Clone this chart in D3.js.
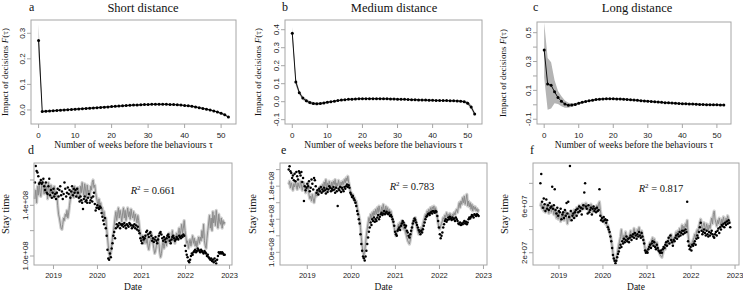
<!DOCTYPE html>
<html><head><meta charset="utf-8">
<script src="https://cdn.jsdelivr.net/npm/d3@7"></script>
<style>body{margin:0;background:#fff}svg{display:block}</style>
</head><body>
<svg id="chart" width="743" height="290"></svg>
<script>
// ---------------- DATA ----------------
const lagWeeks = d3.range(0, 53);
const panelTitles = ["Short distance", "Medium distance", "Long distance"];
const panelLetters = ["a", "b", "c", "d", "e", "f"];
const r2Values = ["0.661", "0.783", "0.817"];
const lagTicks = [0, 10, 20, 30, 40, 50];
const yearTicks = ["2019", "2020", "2021", "2022", "2023"];

const shortImpact = [0.272,-0.006,-0.005,-0.004,-0.003,-0.002,-0.001,0.000,0.001,0.002,0.003,0.004,0.005,0.006,0.007,0.008,0.009,0.010,0.011,0.012,0.013,0.014,0.015,0.016,0.017,0.018,0.019,0.019,0.020,0.021,0.021,0.022,0.022,0.022,0.022,0.022,0.021,0.021,0.020,0.019,0.017,0.016,0.014,0.012,0.009,0.006,0.003,0.000,-0.004,-0.008,-0.013,-0.019,-0.028];
const shortBand = [0.063,0.004,0.003,0.003,0.003,0.003,0.003,0.003,0.003,0.003,0.003,0.003,0.003,0.003,0.003,0.003,0.003,0.003,0.003,0.003,0.003,0.003,0.003,0.003,0.003,0.003,0.003,0.003,0.003,0.003,0.003,0.003,0.003,0.003,0.003,0.003,0.003,0.003,0.003,0.003,0.003,0.003,0.003,0.003,0.003,0.003,0.003,0.003,0.003,0.003,0.004,0.004,0.004];
const mediumImpact = [0.380,0.110,0.050,0.020,0.005,-0.005,-0.010,-0.012,-0.010,-0.007,-0.003,0.000,0.003,0.006,0.009,0.011,0.013,0.014,0.015,0.016,0.017,0.017,0.017,0.017,0.017,0.017,0.016,0.016,0.015,0.015,0.014,0.013,0.013,0.012,0.011,0.011,0.010,0.009,0.009,0.008,0.008,0.007,0.007,0.006,0.006,0.005,0.005,0.004,0.003,0.000,-0.008,-0.030,-0.068];
const mediumBand = [0.035,0.020,0.012,0.010,0.010,0.009,0.008,0.008,0.007,0.006,0.005,0.004,0.003,0.003,0.003,0.003,0.003,0.003,0.003,0.003,0.003,0.003,0.003,0.003,0.003,0.003,0.003,0.003,0.003,0.003,0.003,0.003,0.003,0.003,0.003,0.003,0.003,0.003,0.003,0.003,0.003,0.003,0.003,0.003,0.003,0.003,0.003,0.004,0.004,0.006,0.010,0.012,0.012];
const longImpact = [0.380,0.145,0.135,0.090,0.050,0.025,0.005,-0.003,-0.002,0.003,0.010,0.017,0.023,0.028,0.032,0.036,0.039,0.041,0.042,0.042,0.042,0.041,0.040,0.039,0.037,0.035,0.033,0.031,0.029,0.027,0.025,0.023,0.021,0.019,0.017,0.015,0.014,0.012,0.011,0.009,0.008,0.007,0.006,0.005,0.004,0.003,0.002,0.001,0.001,0.000,0.000,-0.001,-0.001];
const longBand = [0.190,0.180,0.160,0.080,0.045,0.035,0.025,0.018,0.012,0.010,0.008,0.007,0.006,0.006,0.006,0.006,0.006,0.006,0.006,0.006,0.006,0.006,0.006,0.006,0.006,0.006,0.006,0.006,0.006,0.006,0.006,0.006,0.006,0.006,0.006,0.006,0.006,0.006,0.006,0.006,0.006,0.006,0.006,0.006,0.006,0.006,0.006,0.006,0.006,0.006,0.006,0.006,0.006];

// weekly stay time series, first week 2018-07-31
const firstWeek = "2018-07-31";
const shortObserved = [
1.58,1.71,1.67,1.66,1.63,1.57,1.58,1.60,1.57,1.58,1.61,1.55,1.52,
1.58,1.50,1.49,1.55,1.61,1.48,1.52,1.46,1.50,1.53,1.47,1.49,1.45,
1.50,1.53,1.47,1.52,1.55,1.48,1.51,1.45,1.49,1.58,1.53,1.47,1.50,
1.54,1.49,1.52,1.46,1.51,1.55,1.48,1.53,1.50,1.52,1.47,1.53,1.50,
1.46,1.43,1.47,1.44,1.42,1.37,1.45,1.47,1.43,1.44,1.42,1.46,1.49,
1.42,1.44,1.46,1.43,1.47,1.50,1.41,1.36,1.38,1.40,1.38,1.37,1.39,
1.38,1.34,1.31,1.28,1.25,1.30,1.22,1.16,1.05,0.98,0.97,1.02,0.99,
1.06,1.10,1.16,1.19,1.14,1.22,1.25,1.23,1.24,1.26,1.22,1.25,1.24,
1.25,1.23,1.26,1.24,1.22,1.25,1.24,1.23,1.26,1.25,1.24,1.22,1.24,
1.23,1.25,1.22,1.24,1.21,1.23,1.20,1.18,1.14,1.12,1.10,1.15,1.13,
1.14,1.16,1.19,1.20,1.17,1.15,1.18,1.19,1.16,1.12,1.14,1.11,1.13,
1.15,1.12,1.10,1.13,1.16,1.18,1.19,1.17,1.14,1.12,1.15,1.13,1.11,
1.14,1.16,1.17,1.15,1.12,1.10,1.13,1.15,1.16,1.14,1.12,1.13,1.15,
1.14,1.13,1.16,1.15,1.14,1.16,1.15,1.17,1.16,1.08,1.04,1.01,0.99,
0.96,0.95,0.97,1.00,1.02,1.01,1.03,1.04,1.05,1.03,1.04,1.06,1.05,
1.04,1.03,1.05,1.04,1.03,1.02,1.04,1.03,1.02,1.00,1.01,0.99,0.98,
0.97,0.98,0.96,0.97,0.95,0.98,0.96,0.94,0.97,1.00,1.03,1.02,1.03,
1.02,1.03,1.02,1.01,1.01];
const shortPredicted = [
1.45,1.52,1.42,1.55,1.48,1.58,1.50,1.47,1.56,1.60,1.52,1.49,1.57,
1.50,1.55,1.45,1.58,1.52,1.47,1.56,1.50,1.53,1.46,1.55,1.49,1.51,
1.48,1.40,1.33,1.30,1.26,1.22,1.21,1.25,1.30,1.28,1.33,1.31,1.36,
1.30,1.34,1.40,1.45,1.50,1.48,1.53,1.46,1.55,1.50,1.52,1.47,1.54,
1.50,1.45,1.55,1.50,1.58,1.52,1.48,1.57,1.53,1.45,1.56,1.50,1.52,
1.47,1.55,1.52,1.58,1.60,1.54,1.56,1.50,1.46,1.43,1.40,1.45,1.38,
1.42,1.36,1.38,1.32,1.35,1.28,1.30,1.22,1.15,1.08,1.02,0.99,1.03,
1.08,1.15,1.18,1.24,1.30,1.35,1.28,1.33,1.38,1.30,1.36,1.32,1.27,
1.34,1.38,1.30,1.36,1.28,1.33,1.38,1.31,1.35,1.29,1.37,1.32,1.30,
1.35,1.28,1.33,1.30,1.26,1.32,1.28,1.22,1.18,1.15,1.12,1.16,1.10,
1.12,1.16,1.10,1.14,1.08,1.05,1.10,1.13,1.18,1.14,1.10,1.06,1.02,
1.04,1.08,1.12,1.15,1.10,1.03,0.99,1.02,1.08,1.12,1.06,1.10,1.14,
1.08,1.15,1.11,1.18,1.13,1.10,1.14,1.20,1.12,1.16,1.10,1.15,1.18,
1.15,1.18,1.22,1.16,1.20,1.25,1.18,1.22,1.28,1.20,1.15,1.10,1.12,
1.06,1.10,1.13,1.08,1.12,1.16,1.10,1.14,1.08,1.12,1.07,1.11,1.15,
1.10,1.15,1.12,1.20,1.14,1.25,1.12,1.08,1.06,1.14,1.20,1.26,1.32,
1.22,1.30,1.20,1.35,1.26,1.32,1.24,1.36,1.28,1.22,1.33,1.27,1.25,
1.30,1.22,1.28,1.25,1.27];
const mediumObserved = [
2.00,2.04,1.98,1.96,1.90,1.93,1.87,1.95,1.86,1.97,1.92,1.88,1.98,
1.96,1.93,1.97,1.85,1.90,1.62,1.80,1.75,1.78,1.83,1.80,1.86,1.74,
1.78,1.88,1.83,1.76,1.90,1.87,1.80,1.72,1.75,1.70,1.77,1.74,1.79,
1.72,1.76,1.74,1.78,1.75,1.71,1.77,1.73,1.76,1.80,1.78,1.74,1.77,
1.75,1.79,1.76,1.72,1.78,1.74,1.56,1.77,1.75,1.79,1.73,1.78,1.76,
1.74,1.79,1.77,1.80,1.82,1.79,1.81,1.78,1.72,1.70,1.67,1.68,1.65,
1.63,1.60,1.56,1.50,1.46,1.40,1.35,1.22,1.10,1.02,0.95,0.93,0.90,
0.95,1.02,1.10,1.18,1.25,1.30,1.36,1.33,1.40,1.38,1.42,1.37,1.40,
1.38,1.42,1.45,1.40,1.43,1.46,1.48,1.45,1.47,1.50,1.46,1.48,1.49,
1.47,1.46,1.48,1.44,1.45,1.43,1.40,1.37,1.32,1.25,1.22,1.20,1.26,
1.28,1.30,1.27,1.32,1.35,1.38,1.36,1.33,1.30,1.32,1.26,1.24,1.20,
1.18,1.22,1.26,1.30,1.35,1.38,1.41,1.39,1.36,1.33,1.30,1.27,1.25,
1.22,1.26,1.24,1.28,1.32,1.36,1.40,1.43,1.44,1.46,1.47,1.45,1.48,
1.49,1.47,1.50,1.49,1.48,1.50,1.49,1.44,1.38,1.30,1.22,1.17,1.20,
1.24,1.30,1.34,1.38,1.40,1.37,1.39,1.42,1.40,1.43,1.41,1.39,1.42,
1.40,1.41,1.38,1.42,1.40,1.38,1.35,1.34,1.36,1.33,1.35,1.34,1.36,
1.38,1.35,1.37,1.34,1.36,1.40,1.42,1.41,1.43,1.45,1.44,1.42,1.46,
1.45,1.44,1.46,1.45,1.44];
const mediumPredicted = [
1.82,1.86,1.78,1.84,1.80,1.75,1.83,1.79,1.85,1.81,1.76,1.84,1.80,
1.78,1.86,1.82,1.75,1.80,1.84,1.78,1.72,1.80,1.76,1.83,1.70,1.65,
1.68,1.62,1.70,1.65,1.60,1.66,1.72,1.68,1.75,1.70,1.78,1.73,1.80,
1.76,1.82,1.78,1.85,1.80,1.88,1.76,1.84,1.79,1.86,1.82,1.78,1.85,
1.80,1.86,1.82,1.88,1.78,1.84,1.80,1.87,1.82,1.78,1.85,1.81,1.86,
1.82,1.88,1.84,1.90,1.86,1.92,1.85,1.80,1.74,1.72,1.68,1.70,1.64,
1.66,1.60,1.62,1.55,1.50,1.45,1.40,1.30,1.18,1.08,1.00,0.97,1.02,
1.10,1.20,1.28,1.35,1.42,1.38,1.46,1.40,1.48,1.44,1.50,1.45,1.52,
1.46,1.54,1.48,1.56,1.50,1.47,1.55,1.49,1.58,1.52,1.48,1.56,1.50,
1.54,1.48,1.52,1.46,1.50,1.44,1.40,1.35,1.30,1.24,1.20,1.25,1.30,
1.34,1.28,1.36,1.30,1.38,1.32,1.28,1.35,1.26,1.22,1.18,1.14,1.12,
1.10,1.15,1.22,1.28,1.34,1.40,1.36,1.42,1.35,1.30,1.26,1.22,1.28,
1.24,1.30,1.26,1.34,1.38,1.42,1.46,1.44,1.50,1.47,1.52,1.48,1.54,
1.50,1.55,1.52,1.56,1.50,1.54,1.48,1.42,1.35,1.30,1.28,1.32,1.35,
1.38,1.42,1.40,1.45,1.42,1.48,1.44,1.46,1.43,1.47,1.45,1.42,1.46,
1.44,1.48,1.45,1.50,1.52,1.48,1.55,1.60,1.54,1.62,1.58,1.66,1.60,
1.68,1.58,1.64,1.70,1.56,1.62,1.55,1.60,1.52,1.58,1.50,1.56,1.52,
1.55,1.50,1.53,1.49,1.52];
const longObserved = [
8.0,8.8,6.4,5.9,6.7,6.2,5.6,6.6,5.8,6.1,5.7,6.3,5.9,
6.0,7.7,5.8,6.1,7.5,5.7,5.4,5.9,5.2,5.6,5.5,5.8,4.9,
5.3,5.5,5.0,5.7,5.2,6.3,5.4,6.4,5.1,9.5,5.6,4.8,5.2,
5.4,5.0,5.5,5.7,5.2,5.8,5.5,6.0,5.6,5.9,5.3,5.8,6.1,
7.2,8.0,6.0,5.8,5.4,6.1,5.5,5.7,5.9,5.3,5.8,6.0,5.6,
5.8,5.5,5.9,5.6,5.7,7.5,5.2,4.8,5.0,4.7,5.1,4.8,4.9,
4.6,4.8,4.2,4.0,3.8,3.4,3.0,2.4,1.8,1.5,1.3,1.1,1.3,
1.6,1.9,2.1,2.4,2.7,2.5,3.0,2.8,3.2,2.9,3.1,3.4,3.0,
3.2,2.9,3.3,3.5,3.1,3.4,3.6,3.3,3.7,3.5,3.2,3.6,3.4,
3.8,3.5,3.3,3.7,3.4,3.1,2.8,2.2,2.0,2.1,2.0,2.3,2.5,
2.7,2.4,2.8,3.0,2.6,2.9,2.5,2.3,2.7,2.4,2.2,2.1,2.0,
2.2,2.0,2.3,2.5,2.4,2.7,2.9,2.6,3.0,3.3,2.8,3.5,3.1,
2.9,2.6,3.1,3.0,3.3,3.5,3.2,3.6,3.4,3.8,3.5,3.7,3.9,
3.6,3.9,3.7,4.0,3.8,6.4,3.0,2.6,2.3,2.5,2.2,2.7,2.6,
2.8,3.0,2.7,3.2,3.5,3.3,3.8,4.2,4.6,3.9,3.6,3.8,4.0,
3.7,3.5,3.9,3.6,3.4,3.8,3.5,3.7,3.9,3.6,3.4,3.3,3.6,
3.8,3.5,3.9,4.1,3.7,4.2,4.0,4.4,4.3,4.5,4.2,4.6,4.4,
4.7,4.5,4.8,4.6,4.2];
const longPredicted = [
6.0,6.3,5.8,6.1,5.6,6.0,5.5,5.9,6.2,5.7,5.4,6.0,5.8,
5.5,6.1,5.7,5.3,5.8,5.5,5.0,5.6,4.9,5.4,5.1,4.7,5.2,
5.0,5.5,4.8,5.3,5.6,5.1,4.5,5.0,5.4,4.8,5.2,5.6,5.0,
5.3,5.7,5.1,5.5,5.9,5.4,5.8,6.1,5.6,6.0,5.7,6.2,5.8,
6.2,5.8,6.3,5.9,6.1,5.6,6.0,5.7,6.2,5.8,5.5,6.0,5.7,
5.9,5.6,6.1,5.8,6.2,6.4,5.7,5.2,5.0,4.8,5.0,4.7,4.5,
4.6,4.3,4.4,4.0,3.7,3.5,3.1,2.6,2.0,1.6,1.3,1.2,1.5,
1.9,2.3,2.7,3.0,3.4,4.0,3.3,3.0,3.5,3.2,3.8,3.3,3.0,
3.4,3.1,3.6,3.9,3.3,3.7,3.5,4.1,3.6,3.8,3.4,4.0,3.7,
4.2,3.7,3.5,3.9,3.5,3.2,2.9,2.4,2.2,2.3,2.1,2.5,2.7,
2.9,2.5,3.1,3.3,2.8,3.2,2.7,2.4,2.9,2.5,2.2,2.0,1.8,
1.7,1.6,1.9,2.2,2.5,2.3,2.8,3.0,2.7,3.2,3.4,3.0,3.6,
3.2,2.8,3.3,3.1,3.5,3.8,3.4,3.9,3.6,4.1,3.8,4.0,4.4,
4.0,4.3,4.1,4.5,4.2,4.8,3.6,3.0,2.6,2.8,2.5,2.9,3.1,
3.3,3.6,3.2,3.8,4.0,3.7,4.3,4.6,4.9,4.3,4.0,4.4,4.6,
4.2,4.0,4.5,4.2,3.9,4.4,4.1,4.6,5.0,4.5,5.3,5.6,4.9,
4.6,4.3,4.8,4.5,5.0,4.7,4.3,4.9,4.6,5.1,4.7,4.5,5.0,
4.8,5.2,4.9,4.6,4.7];
const stayUnits = [1e8, 1e8, 1e7];

// ---------------- LAYOUT ----------------
const SERIF = "'Liberation Serif','Times New Roman',serif";
const SANS = "'Liberation Sans',Arial,sans-serif";
const BOX = "#a6a6a6";

const svg = d3.select("#chart");

function yearToDate(y){
  const yr = Math.floor(y), s = new Date(yr,0,1), e = new Date(yr+1,0,1);
  return new Date(+s + (y-yr)*(e-s));
}
function sci(v, digits){
  const exp = Math.floor(Math.log10(Math.abs(v)) + 1e-9);
  const m = v / Math.pow(10, exp);
  return m.toFixed(digits) + "e+" + String(exp).padStart(2,"0");
}

const topPanels = [
  {vals: shortImpact, band: shortBand, box:[31,236,20,124], yDom:[-0.055,0.352],
   yTicks:[0,0.1,0.2,0.3], yLab:[0,0.1,0.2,0.3], titleX:143, letterX:29, ylabX:8},
  {vals: mediumImpact, band: mediumBand, box:[285,482,20,124], yDom:[-0.124,0.454],
   yTicks:[-0.1,0,0.1,0.2,0.3,0.4], yLab:[-0.1,0,0.1,0.2,0.3,0.4], titleX:394, letterX:282, ylabX:261},
  {vals: longImpact, band: longBand, box:[537,731,22,124], yDom:[-0.133,0.574],
   yTicks:[-0.1,0,0.1,0.2,0.3,0.4,0.5], yLab:[-0.1,0.1,0.3,0.5], titleX:637, letterX:533, ylabX:506}
];

topPanels.forEach((p, i) => {
  const [x0,x1,y0,y1] = p.box;
  const x = d3.scaleLinear().domain([-2.08, 54.08]).range([x0,x1]);
  const y = d3.scaleLinear().domain(p.yDom).range([y1,y0]);
  const g = svg.append("g");
  const data = lagWeeks.map((w,k)=>({w, v:p.vals[k], b:p.band[k]}));
  g.append("path").datum(data)
    .attr("d", d3.area().x(d=>x(d.w)).y0(d=>y(d.v-d.b)).y1(d=>y(d.v+d.b)))
    .attr("fill","#b4b4b4").attr("stroke","none");
  g.append("path").datum(data)
    .attr("d", d3.line().x(d=>x(d.w)).y(d=>y(d.v)))
    .attr("fill","none").attr("stroke","#111").attr("stroke-width",1);
  g.selectAll("circle").data(data).join("circle")
    .attr("cx",d=>x(d.w)).attr("cy",d=>y(d.v)).attr("r",1.5).attr("fill","#000");
  g.append("rect").attr("x",x0).attr("y",y0).attr("width",x1-x0).attr("height",y1-y0)
    .attr("fill","none").attr("stroke",BOX).attr("stroke-width",1);
  lagTicks.forEach(t=>{
    g.append("line").attr("x1",x(t)).attr("x2",x(t)).attr("y1",y1).attr("y2",y1+4).attr("stroke",BOX);
    g.append("text").attr("x",x(t)).attr("y",y1+13.5).attr("text-anchor","middle")
      .attr("font-family",SANS).attr("font-size",8).attr("fill","#222").text(t);
  });
  p.yTicks.forEach(t=>{
    g.append("line").attr("x1",x0-4).attr("x2",x0).attr("y1",y(t)).attr("y2",y(t)).attr("stroke",BOX);
  });
  p.yLab.forEach(t=>{
    g.append("text").attr("transform",`translate(${x0-6},${y(t)}) rotate(-90)`)
      .attr("text-anchor","middle").attr("font-family",SANS).attr("font-size",8).attr("fill","#222")
      .text(t.toFixed(1));
  });
  g.append("text").attr("x",p.titleX).attr("y",12).attr("text-anchor","middle")
    .attr("font-family",SERIF).attr("font-size",12.5).attr("fill","#111").text(panelTitles[i]);
  g.append("text").attr("x",p.letterX).attr("y",11).attr("font-family",SERIF)
    .attr("font-size",12).attr("fill","#111").text(panelLetters[i]);
  g.append("text").attr("x",(x0+x1)/2).attr("y",148).attr("text-anchor","middle")
    .attr("font-family",SERIF).attr("font-size",9.5).attr("fill","#111")
    .text("Number of weeks before the behaviours τ");
  const yl = g.append("text").attr("transform",`translate(${p.ylabX},${(y0+y1)/2}) rotate(-90)`)
    .attr("text-anchor","middle").attr("font-family",SERIF).attr("font-size",9).attr("fill","#111");
  yl.append("tspan").text("Impact of decisions ");
  yl.append("tspan").attr("font-style","italic").text("F");
  yl.append("tspan").text("(τ)");
});

const bottomPanels = [
  {obs: shortObserved, pred: shortPredicted, box:[34,232,163,265], xDom:[2018.557,2023.057],
   yDom:[0.929,1.734], yTicks:[1.0,1.2,1.4,1.6], yLab:[1.0,1.4], digits:1, letterX:28, ylabX:9, r2:[153,194]},
  {obs: mediumObserved, pred: mediumPredicted, box:[280,487,163,265], xDom:[2018.38,2023.08],
   yDom:[0.847,2.08], yTicks:[1.0,1.2,1.4,1.6,1.8,2.0], yLab:[1.0,1.4,1.8], digits:1, letterX:281, ylabX:256, r2:[412,190]},
  {obs: longObserved, pred: longPredicted, box:[533,739,163,265], xDom:[2018.41,2023.09],
   yDom:[0.94,9.76], yTicks:[2,4,6,8], yLab:[2,6], digits:0, letterX:530, ylabX:508, r2:[661,192]}
];

bottomPanels.forEach((p, i) => {
  const [x0,x1,y0,y1] = p.box;
  const unit = stayUnits[i];
  const start = d3.timeParse("%Y-%m-%d")(firstWeek);
  const data = p.obs.map((v,k)=>({d: d3.timeDay.offset(start, 7*k), o: v*unit, p: p.pred[k]*unit}));
  const x = d3.scaleTime().domain(p.xDom.map(yearToDate)).range([x0,x1]);
  const y = d3.scaleLinear().domain(p.yDom.map(v=>v*unit)).range([y1,y0]);
  const g = svg.append("g");
  const line = d3.line().x(d=>x(d.d)).y(d=>y(d.p));
  g.append("path").datum(data).attr("d",line).attr("fill","none")
    .attr("stroke","#cfcfcf").attr("stroke-width",3.2).attr("stroke-linejoin","round");
  g.append("path").datum(data).attr("d",line).attr("fill","none")
    .attr("stroke","#8c8c8c").attr("stroke-width",1).attr("stroke-linejoin","round");
  g.selectAll("circle").data(data).join("circle")
    .attr("cx",d=>x(d.d)).attr("cy",d=>y(d.o)).attr("r",1.25).attr("fill","#000");
  g.append("rect").attr("x",x0).attr("y",y0).attr("width",x1-x0).attr("height",y1-y0)
    .attr("fill","none").attr("stroke",BOX).attr("stroke-width",1);
  yearTicks.forEach(t=>{
    const xx = x(d3.timeParse("%Y")(t));
    g.append("line").attr("x1",xx).attr("x2",xx).attr("y1",y1).attr("y2",y1+4).attr("stroke",BOX);
    g.append("text").attr("x",xx).attr("y",y1+12.5).attr("text-anchor","middle")
      .attr("font-family",SANS).attr("font-size",7.5).attr("fill","#222").text(t);
  });
  p.yTicks.forEach(t=>{
    g.append("line").attr("x1",x0-4).attr("x2",x0).attr("y1",y(t*unit)).attr("y2",y(t*unit)).attr("stroke",BOX);
  });
  p.yLab.forEach(t=>{
    g.append("text").attr("transform",`translate(${x0-6},${y(t*unit)}) rotate(-90)`)
      .attr("text-anchor","middle").attr("font-family",SANS).attr("font-size",8).attr("fill","#222")
      .text(sci(t*unit, p.digits));
  });
  g.append("text").attr("x",p.letterX).attr("y",154).attr("font-family",SERIF)
    .attr("font-size",12).attr("fill","#111").text(panelLetters[i+3]);
  g.append("text").attr("x",(x0+x1)/2).attr("y",289.5).attr("text-anchor","middle")
    .attr("font-family",SERIF).attr("font-size",9.5).attr("fill","#111").text("Date");
  g.append("text").attr("transform",`translate(${p.ylabX},${(y0+y1)/2}) rotate(-90)`)
    .attr("text-anchor","middle").attr("font-family",SERIF).attr("font-size",10.5).attr("fill","#111")
    .text("Stay time");
  const r = g.append("text").attr("x",p.r2[0]).attr("y",p.r2[1]).attr("text-anchor","middle")
    .attr("font-family",SERIF).attr("font-size",10.5).attr("fill","#111");
  r.append("tspan").attr("font-style","italic").text("R");
  r.append("tspan").attr("font-size",7).attr("dy",-4).text("2");
  r.append("tspan").attr("dy",4).text(" = " + r2Values[i]);
});
</script>
</body></html>
